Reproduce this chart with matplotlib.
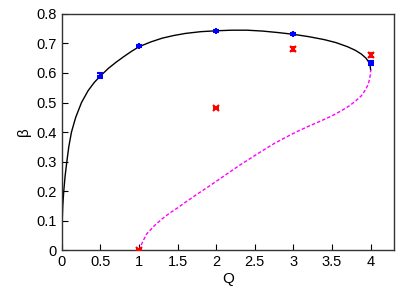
import matplotlib
matplotlib.use("Agg")
import matplotlib.pyplot as plt

plt.rcParams['font.family'] = ['Liberation Sans', 'DejaVu Sans']

# black curve
q_black = [0.0, 0.0005, 0.002, 0.005, 0.012, 0.025, 0.042, 0.065, 0.09, 0.125, 0.18,
           0.255, 0.34, 0.42, 0.5, 0.6, 0.7, 0.8, 0.9, 1.0, 1.15, 1.3, 1.45, 1.6, 1.8,
           2.0, 2.2, 2.4, 2.6, 2.8, 3.0, 3.2, 3.4, 3.55, 3.7, 3.8, 3.88, 3.94, 3.975,
           3.993, 4.0]
b_black = [0.0, 0.03, 0.06, 0.10, 0.15, 0.20, 0.25, 0.30, 0.35, 0.40, 0.45,
           0.50, 0.54, 0.568, 0.59, 0.615, 0.636, 0.655, 0.673, 0.689, 0.705, 0.718,
           0.727, 0.734, 0.740, 0.743, 0.745, 0.745, 0.742, 0.737, 0.731, 0.723, 0.713,
           0.703, 0.689, 0.677, 0.664, 0.650, 0.637, 0.624, 0.61]

# magenta dashed curve
q_mag = [1.0, 1.05, 1.1, 1.2, 1.3, 1.4, 1.5, 1.6, 1.75, 1.9, 2.0, 2.15, 2.3, 2.45, 2.6,
         2.75, 2.9, 3.05, 3.2, 3.35, 3.5, 3.62, 3.72, 3.81, 3.88, 3.93, 3.965, 3.985,
         3.996, 4.0]
b_mag = [0.0, 0.03, 0.055, 0.083, 0.106, 0.126, 0.143, 0.162, 0.189, 0.215, 0.233,
         0.260, 0.287, 0.312, 0.337, 0.361, 0.382, 0.402, 0.420, 0.437, 0.455, 0.472,
         0.488, 0.506, 0.523, 0.542, 0.560, 0.578, 0.595, 0.61]

# blue points with error bars
q_blue = [0.5, 1, 2, 3, 4]
b_blue = [0.591, 0.691, 0.743, 0.731, 0.633]
e_blue = [0.009, 0.003, 0.003, 0.003, 0.006]

# red points with error bars
q_red = [1, 2, 3, 4]
b_red = [0.0, 0.482, 0.681, 0.661]
e_red = [0.003, 0.004, 0.006, 0.006]

fig = plt.figure(figsize=(4.15, 2.97), dpi=100)
ax = fig.add_axes([0.149, 0.158, 0.8, 0.795])

ax.plot(q_black, b_black, color='black', linewidth=1.0)
ax.plot(q_mag, b_mag, color='#ff00ff', linewidth=1.0, dashes=(2.5, 1.5))
ax.errorbar(q_blue, b_blue, yerr=e_blue, fmt='+', color='blue', markersize=4,
            markeredgewidth=1.5, elinewidth=1.0, capsize=2.5, zorder=3)
ax.errorbar(q_red, b_red, yerr=e_red, fmt='x', color='red', markersize=4,
            markeredgewidth=1.5, elinewidth=1.0, capsize=2.5, zorder=3)

ax.set_xlim(0, 4.3)
ax.set_ylim(0, 0.8)
ax.set_xticks([0, 0.5, 1, 1.5, 2, 2.5, 3, 3.5, 4])
ax.set_xticklabels(['0', '0.5', '1', '1.5', '2', '2.5', '3', '3.5', '4'])
ax.set_yticks([0, 0.1, 0.2, 0.3, 0.4, 0.5, 0.6, 0.7, 0.8])
ax.set_yticklabels(['0', '0.1', '0.2', '0.3', '0.4', '0.5', '0.6', '0.7', '0.8'])
ax.tick_params(direction='in', length=4, labelsize=10.5, top=False, right=False)
ax.set_xlabel('Q', fontsize=11, labelpad=2)
ax.set_ylabel('β', fontsize=11, labelpad=4)
for s in ax.spines.values():
    s.set_linewidth(1.0)
    s.set_color('#333333')

fig.savefig('out.png', dpi=100)
